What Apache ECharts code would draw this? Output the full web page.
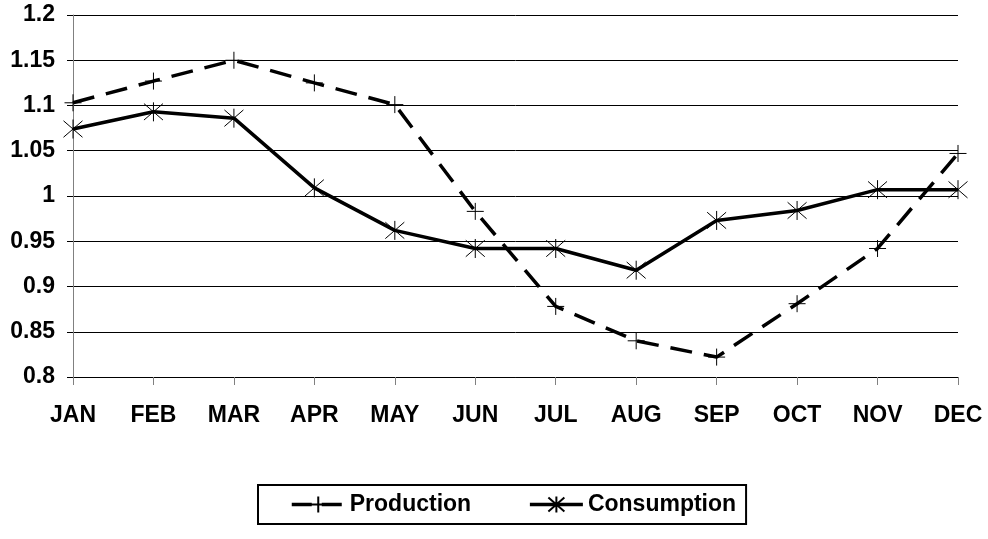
<!DOCTYPE html>
<html>
<head>
<meta charset="utf-8">
<script src="https://cdn.jsdelivr.net/npm/echarts@6/dist/echarts.min.js"></script>
<style>
  html, body { margin: 0; padding: 0; background: #fff; }
  #charts { width: 988px; height: 539px; }
</style>
</head>
<body>
<div id="charts"></div>
<script>
const months = ['JAN', 'FEB', 'MAR', 'APR', 'MAY', 'JUN', 'JUL', 'AUG', 'SEP', 'OCT', 'NOV', 'DEC'];
const production = [1.103, 1.127, 1.150, 1.125, 1.101, 0.983, 0.878, 0.840, 0.822, 0.881, 0.942, 1.047];
const consumption = [1.074, 1.093, 1.086, 1.009, 0.962, 0.942, 0.942, 0.918, 0.973, 0.984, 1.007, 1.007];

// 标记形状：加号和星号（只描边）
const plusPath = 'path://M0,-10L0,10M-10,0L10,0';
const starPath = 'path://M0,-10L0,10M-8.66,-8.66L8.66,8.66M-8.66,8.66L8.66,-8.66';

const font = 'Liberation Sans, Arial, sans-serif';
const prodDash = [22, 12];

const option = {
    animation: false,
    grid: {
        left: 73,
        right: 30,
        top: 15,
        bottom: 162
    },
    xAxis: {
        type: 'category',
        data: months,
        boundaryGap: false,
        axisLine: { lineStyle: { color: '#000', width: 1 } },
        axisTick: { show: true, length: 8, lineStyle: { color: '#808080' } },
        axisLabel: {
            margin: 27,
            color: '#000',
            fontWeight: 'bold',
            fontFamily: font,
            fontSize: 23
        }
    },
    yAxis: {
        type: 'value',
        min: 0.8,
        max: 1.2,
        interval: 0.05,
        axisLine: { show: true, lineStyle: { color: '#808080', width: 1 } },
        axisTick: { show: true, length: 6, lineStyle: { color: '#000' } },
        splitLine: { show: true, lineStyle: { color: '#000', width: 1 } },
        axisLabel: {
            margin: 18,
            color: '#000',
            fontWeight: 'bold',
            fontFamily: font,
            fontSize: 23,
            formatter: function (v) {
                return String(parseFloat(v.toFixed(2)));
            }
        }
    },
    legend: {
        left: 258,
        top: 485,
        padding: [8, 10, 8, 32],
        itemGap: 57,
        itemWidth: 53,
        itemHeight: 20,
        borderColor: '#000',
        borderWidth: 2,
        borderRadius: 0,
        backgroundColor: '#fff',
        textStyle: {
            color: '#000',
            fontWeight: 'bold',
            fontFamily: font,
            fontSize: 23
        },
        data: [
            { name: 'Production', lineStyle: { color: '#000', width: 3.5, type: [20, 10] } },
            { name: 'Consumption', lineStyle: { color: '#000', width: 3.5, type: 'solid' } }
        ]
    },
    series: [{
        name: 'Production',
        type: 'line',
        data: production,
        symbol: plusPath,
        symbolSize: 17,
        showSymbol: true,
        lineStyle: { color: '#000', width: 3.5, type: prodDash },
        itemStyle: { color: 'rgba(0,0,0,0)', borderColor: '#000', borderWidth: 1 },
        z: 3
    }, {
        name: 'Consumption',
        type: 'line',
        data: consumption,
        symbol: starPath,
        symbolSize: 19,
        showSymbol: true,
        lineStyle: { color: '#000', width: 3.5, type: 'solid' },
        itemStyle: { color: 'rgba(0,0,0,0)', borderColor: '#000', borderWidth: 1 },
        z: 4
    }]
};
const chart = echarts.init(document.getElementById('charts'));
chart.setOption(option);
</script>
</body>
</html>
